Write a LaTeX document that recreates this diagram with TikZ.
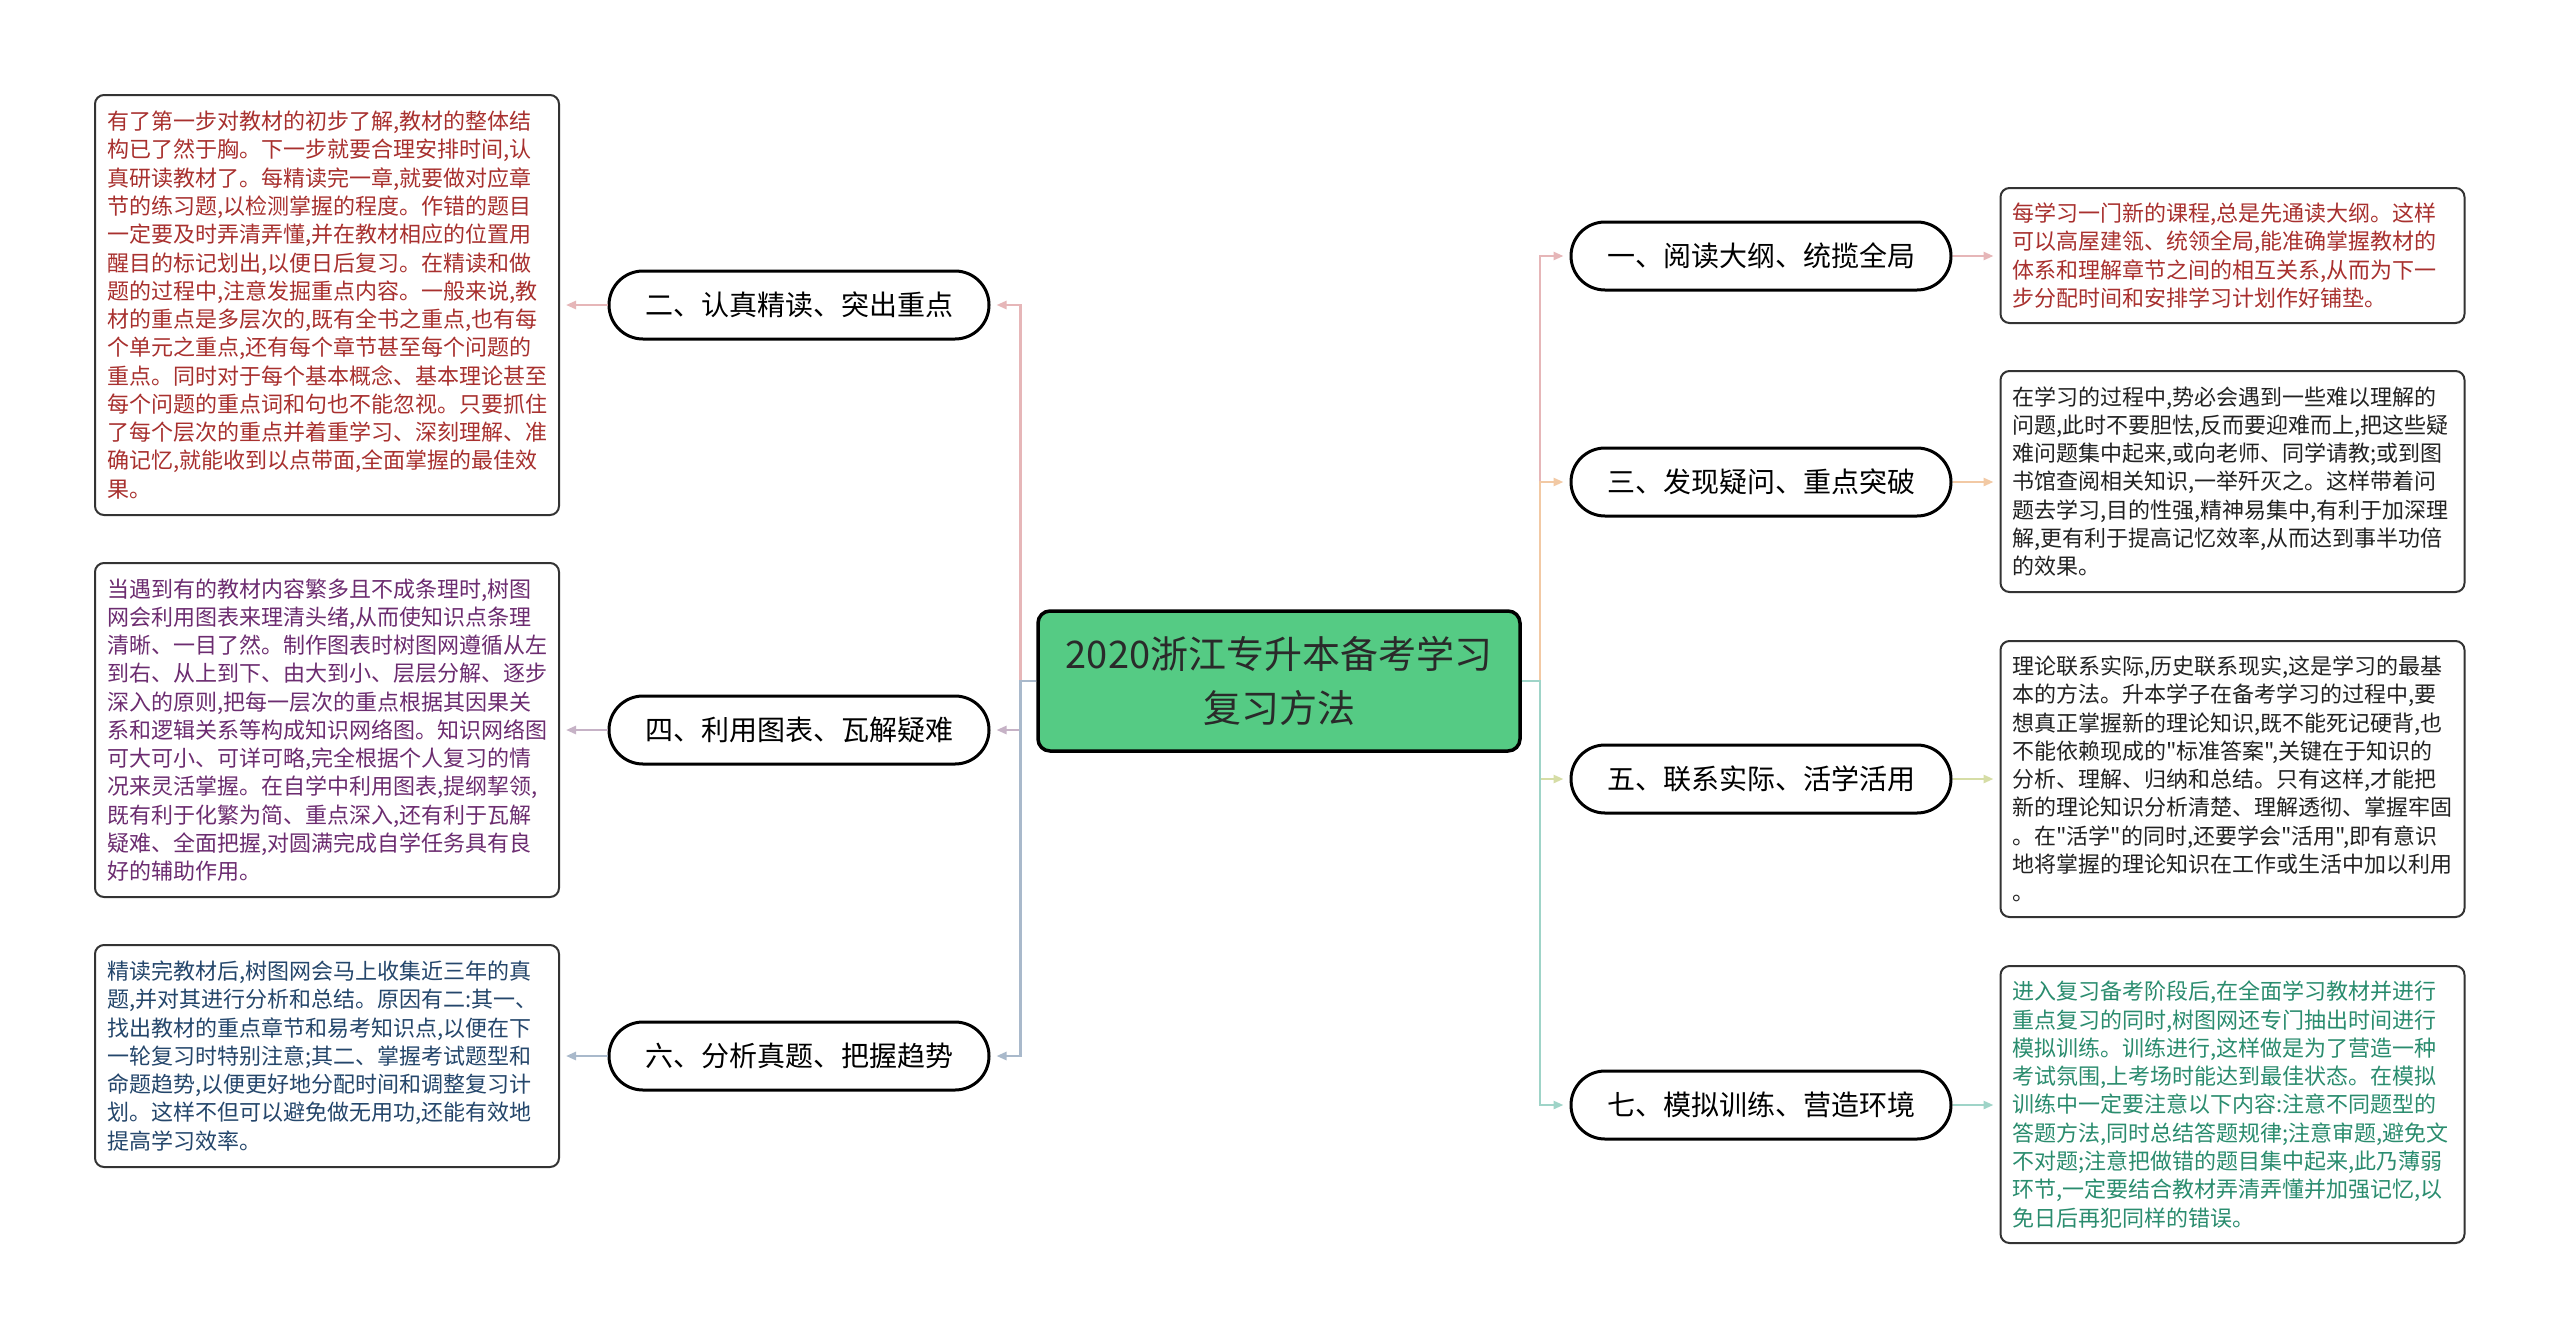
\documentclass[tikz,border=0pt]{standalone}
\usepackage{fontspec}
\setmainfont{Noto Sans CJK SC}[Ligatures=TeXOff]
\usetikzlibrary{arrows.meta}
\newdimen\px \px=0.75pt
\definecolor{ctrgreen}{HTML}{55CB84}
\definecolor{ctrtext}{HTML}{2A2A2A}
\definecolor{boxline}{HTML}{333333}
\definecolor{tred}{HTML}{A8302E}
\definecolor{tpurple}{HTML}{6C2C70}
\definecolor{tblue}{HTML}{24466B}
\definecolor{tblack}{HTML}{222222}
\definecolor{tteal}{HTML}{2A8C6E}
\definecolor{cpink}{HTML}{E6B6B8}
\definecolor{cpurple}{HTML}{C6B2C6}
\definecolor{cblue}{HTML}{A9B9CB}
\definecolor{corange}{HTML}{F2C9A4}
\definecolor{cyellow}{HTML}{D6DDA6}
\definecolor{cteal}{HTML}{9FD4C8}
\begin{document}
\begin{tikzpicture}[x=0.75pt,y=-0.75pt,
  ctrbox/.style={draw=black, line width=3.5\px, fill=ctrgreen, rounded corners=12\px,
    minimum width=482\px, minimum height=140\px, align=center, text=ctrtext,
    font=\fontsize{28.5pt}{40.5pt}\selectfont, inner sep=0pt},
  branch/.style={draw=black, line width=3\px, fill=white, rounded corners=34\px,
    minimum width=380\px, minimum height=68\px, text=black,
    font=\fontsize{21pt}{25pt}\selectfont, inner sep=0pt},
  txtbox/.style={draw=boxline, line width=2\px, fill=white, rounded corners=9\px,
    text width=440\px, inner xsep=12\px, inner ysep=4\px, align=left,
    font=\fontsize{16.5pt}{21.2pt}\selectfont},
  link/.style={line width=2.5\px, -{Triangle[length=7.5pt,width=6pt]}, shorten >=6\px}
]
\fill[white] (0,0) rectangle (2560,1339);
\useasboundingbox (0,0) rectangle (2560,1339);

% centre
\node[ctrbox] (ctr) at (1279,681) {2020浙江专升本备考学习\\复习方法};

% branches left
\node[branch] (b2) at (799,305) {二、认真精读、突出重点};
\node[branch] (b4) at (799,730) {四、利用图表、瓦解疑难};
\node[branch] (b6) at (799,1056) {六、分析真题、把握趋势};
% branches right
\node[branch] (b1) at (1761,256) {一、阅读大纲、统揽全局};
\node[branch] (b3) at (1761,482) {三、发现疑问、重点突破};
\node[branch] (b5) at (1761,779) {五、联系实际、活学活用};
\node[branch] (b7) at (1761,1105) {七、模拟训练、营造环境};

% text boxes left
\node[txtbox, text=tred, minimum height=420\px] (tA) at (327,305) {有了第一步对教材的初步了解,教材的整体结\\
构已了然于胸。下一步就要合理安排时间,认\\
真研读教材了。每精读完一章,就要做对应章\\
节的练习题,以检测掌握的程度。作错的题目\\
一定要及时弄清弄懂,并在教材相应的位置用\\
醒目的标记划出,以便日后复习。在精读和做\\
题的过程中,注意发掘重点内容。一般来说,教\\
材的重点是多层次的,既有全书之重点,也有每\\
个单元之重点,还有每个章节甚至每个问题的\\
重点。同时对于每个基本概念、基本理论甚至\\
每个问题的重点词和句也不能忽视。只要抓住\\
了每个层次的重点并着重学习、深刻理解、准\\
确记忆,就能收到以点带面,全面掌握的最佳效\\
果。};

\node[txtbox, text=tpurple, minimum height=334\px] (tB) at (327,730) {当遇到有的教材内容繁多且不成条理时,树图\\
网会利用图表来理清头绪,从而使知识点条理\\
清晰、一目了然。制作图表时树图网遵循从左\\
到右、从上到下、由大到小、层层分解、逐步\\
深入的原则,把每一层次的重点根据其因果关\\
系和逻辑关系等构成知识网络图。知识网络图\\
可大可小、可详可略,完全根据个人复习的情\\
况来灵活掌握。在自学中利用图表,提纲挈领,\\
既有利于化繁为简、重点深入,还有利于瓦解\\
疑难、全面把握,对圆满完成自学任务具有良\\
好的辅助作用。};

\node[txtbox, text=tblue, minimum height=222\px] (tC) at (327,1056) {精读完教材后,树图网会马上收集近三年的真\\
题,并对其进行分析和总结。原因有二:其一、\\
找出教材的重点章节和易考知识点,以便在下\\
一轮复习时特别注意;其二、掌握考试题型和\\
命题趋势,以便更好地分配时间和调整复习计\\
划。这样不但可以避免做无用功,还能有效地\\
提高学习效率。};

% text boxes right
\node[txtbox, text=tred, minimum height=135\px] (t1) at (2232.5,255.5) {每学习一门新的课程,总是先通读大纲。这样\\
可以高屋建瓴、统领全局,能准确掌握教材的\\
体系和理解章节之间的相互关系,从而为下一\\
步分配时间和安排学习计划作好铺垫。};

\node[txtbox, text=tblack, minimum height=221\px] (t3) at (2232.5,481.5) {在学习的过程中,势必会遇到一些难以理解的\\
问题,此时不要胆怯,反而要迎难而上,把这些疑\\
难问题集中起来,或向老师、同学请教;或到图\\
书馆查阅相关知识,一举歼灭之。这样带着问\\
题去学习,目的性强,精神易集中,有利于加深理\\
解,更有利于提高记忆效率,从而达到事半功倍\\
的效果。};

\node[txtbox, text=tblack, minimum height=276\px] (t5) at (2232.5,779) {理论联系实际,历史联系现实,这是学习的最基\\
本的方法。升本学子在备考学习的过程中,要\\
想真正掌握新的理论知识,既不能死记硬背,也\\
不能依赖现成的"标准答案",关键在于知识的\\
分析、理解、归纳和总结。只有这样,才能把\\
新的理论知识分析清楚、理解透彻、掌握牢固\\
。在"活学"的同时,还要学会"活用",即有意识\\
地将掌握的理论知识在工作或生活中加以利用\\
。};

\node[txtbox, text=tteal, minimum height=277\px] (t7) at (2232.5,1104.5) {进入复习备考阶段后,在全面学习教材并进行\\
重点复习的同时,树图网还专门抽出时间进行\\
模拟训练。训练进行,这样做是为了营造一种\\
考试氛围,上考场时能达到最佳状态。在模拟\\
训练中一定要注意以下内容:注意不同题型的\\
答题方法,同时总结答题规律;注意审题,避免文\\
不对题;注意把做错的题目集中起来,此乃薄弱\\
环节,一定要结合教材弄清弄懂并加强记忆,以\\
免日后再犯同样的错误。};

% connectors centre -> branches (left)
\draw[link, draw=cpink] (ctr.west) -- ++(-16,0) |- (b2.east);
\draw[link, draw=cpurple] (ctr.west) -- ++(-16,0) |- (b4.east);
\draw[link, draw=cblue] (ctr.west) -- ++(-16,0) |- (b6.east);
% right
\draw[link, draw=cpink] (ctr.east) -- ++(18,0) |- (b1.west);
\draw[link, draw=corange] (ctr.east) -- ++(18,0) |- (b3.west);
\draw[link, draw=cyellow] (ctr.east) -- ++(18,0) |- (b5.west);
\draw[link, draw=cteal] (ctr.east) -- ++(18,0) |- (b7.west);

% branch -> text boxes
\draw[link, draw=cpink] (b2.west) -- (tA.east |- b2.west);
\draw[link, draw=cpurple] (b4.west) -- (tB.east |- b4.west);
\draw[link, draw=cblue] (b6.west) -- (tC.east |- b6.west);
\draw[link, draw=cpink] (b1.east) -- (t1.west |- b1.east);
\draw[link, draw=corange] (b3.east) -- (t3.west |- b3.east);
\draw[link, draw=cyellow] (b5.east) -- (t5.west |- b5.east);
\draw[link, draw=cteal] (b7.east) -- (t7.west |- b7.east);
\end{tikzpicture}
\end{document}
